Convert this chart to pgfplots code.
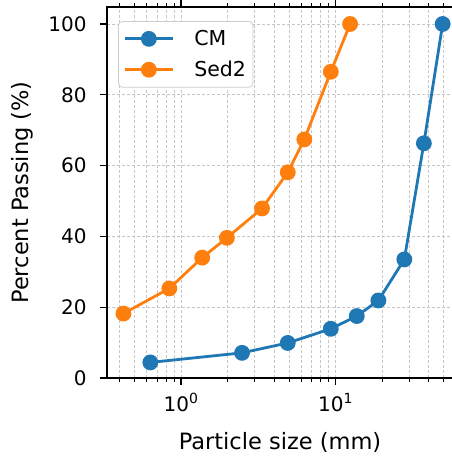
\documentclass[border=0pt]{standalone}
\usepackage{fontspec}
\setmainfont{DejaVu Sans}
\usepackage{pgfplots}
\pgfplotsset{compat=1.18}
\definecolor{tabblue}{HTML}{1F77B4}
\definecolor{taborange}{HTML}{FF7F0E}

\begin{document}
\begin{tikzpicture}[x=1pt,y=1pt]
\path[use as bounding box] (0,0) rectangle (451,458);
\begin{axis}[
  at={(107pt,80pt)}, anchor=south west,
  width=346pt, height=371pt, scale only axis,
  xmode=log, xmin=0.332, xmax=57.4,
  ymin=0, ymax=104.8,
  xtick={1,10}, xticklabels={10\textsuperscript{0},10\textsuperscript{1}},
  minor xtick={0.4,0.5,0.6,0.7,0.8,0.9,2,3,4,5,6,7,8,9,20,30,40,50},
  ytick={0,20,40,60,80,100},
  font=\fontsize{22.5}{27}\selectfont,
  tick label style={font=\fontsize{20}{24}\selectfont},
  yticklabel style={xshift=-10pt},
  xticklabel style={yshift=-5pt},
  /pgf/number format/assume math mode=true,
  xmajorgrids, xminorgrids, ymajorgrids,
  grid style={gray!45, line width=0.8pt, dash pattern=on 3pt off 2pt},
  minor grid style={gray!45, line width=0.8pt, dash pattern=on 3pt off 2pt},
  axis line style={black, line width=1.6pt},
  tick align=outside,
  major tick length=7pt, minor tick length=4pt,
  tick style={black, line width=1.2pt},
  minor tick style={black, line width=0.9pt},
  xlabel={Particle size (mm)}, ylabel={Percent Passing (\%)},
  xlabel style={at={(axis description cs:0.5,-0.175)}, anchor=center},
  ylabel style={at={(axis description cs:-0.244,0.5)}, anchor=center},
  legend style={at={(0.032,0.962)}, anchor=north west, draw=black!20, fill=white,
    rounded corners=4pt, line width=0.8pt, inner xsep=5pt, inner ysep=7pt,
    font=\fontsize{20.5}{24}\selectfont, row sep=10pt},
  legend cell align=left,
  legend image code/.code={\draw[mark repeat=2,mark phase=2,#1] plot coordinates {(0pt,0pt) (24pt,0pt) (48pt,0pt)};
    \path (0pt,0pt) (66pt,0pt);},
]
\addplot[tabblue, line width=2.8pt, mark=*, mark size=6.5pt, mark options={fill=tabblue, draw=tabblue}] coordinates {
  (0.633,4.4) (2.48,7.1) (4.9,9.9) (9.3,13.9) (13.7,17.5) (18.9,21.9) (27.8,33.5) (37.2,66.3) (49.2,100)};
\addlegendentry{CM}
\addplot[taborange, line width=2.8pt, mark=*, mark size=6.5pt, mark options={fill=taborange, draw=taborange}] coordinates {
  (0.424,18.2) (0.84,25.3) (1.37,34.0) (1.98,39.6) (3.34,47.9) (4.9,58.1) (6.27,67.4) (9.3,86.5) (12.4,100)};
\addlegendentry{Sed2}
\end{axis}
\end{tikzpicture}
\end{document}
